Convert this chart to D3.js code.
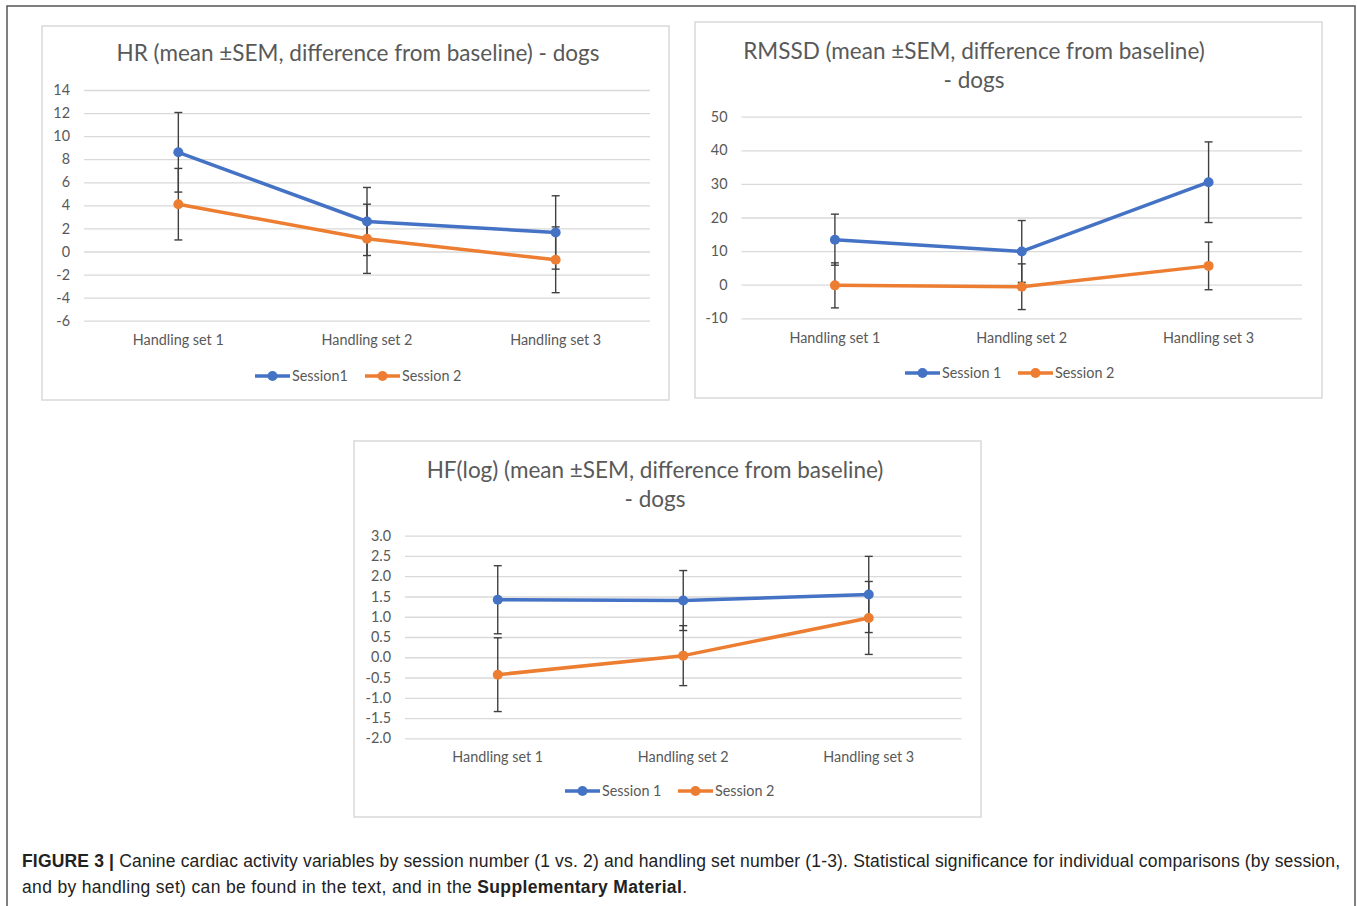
<!DOCTYPE html>
<html>
<head>
<meta charset="utf-8">
<script src="https://cdn.jsdelivr.net/npm/d3@7"></script>
<style>
  html, body { margin: 0; padding: 0; background: #fff; }
  svg { display: block; }
</style>
</head>
<body>
<svg id="fig" width="1357" height="906"></svg>
<script>
// Shared categories and legend names
const categories = ["Handling set 1", "Handling set 2", "Handling set 3"];
const seriesNamesHR = ["Session1", "Session 2"];
const seriesNames = ["Session 1", "Session 2"];

// HR (beats/min change from baseline)
const hrSession1 = [8.6, 2.6, 1.65];
const hrSession1Sem = [3.45, 2.95, 3.18];
const hrSession2 = [4.1, 1.1, -0.72];
const hrSession2Sem = [3.1, 3.0, 2.85];
const hrTicks = [-6, -4, -2, 0, 2, 4, 6, 8, 10, 12, 14];

// RMSSD change from baseline
const rmssdSession1 = [13.4, 9.9, 30.5];
const rmssdSession1Sem = [7.6, 9.2, 12.0];
const rmssdSession2 = [-0.2, -0.6, 5.6];
const rmssdSession2Sem = [6.7, 6.8, 7.1];
const rmssdTicks = [-10, 0, 10, 20, 30, 40, 50];

// HF(log) change from baseline
const hfSession1 = [1.42, 1.40, 1.55];
const hfSession1Sem = [0.84, 0.74, 0.94];
const hfSession2 = [-0.43, 0.04, 0.97];
const hfSession2Sem = [0.91, 0.74, 0.90];
const hfTicks = [-2.0, -1.5, -1.0, -0.5, 0.0, 0.5, 1.0, 1.5, 2.0, 2.5, 3.0];

const BLUE = "#4472C4", ORANGE = "#ED7D31";
const GRID = "#D9D9D9", TEXT = "#595959", ERR = "#404040";
const FONT = "Lato, 'Open Sans', sans-serif";

const svg = d3.select("#fig");

// Figure frame
svg.append("rect").attr("x", 7).attr("y", 6).attr("width", 1348).attr("height", 940)
  .attr("fill", "none").attr("stroke", "#555").attr("stroke-width", 1.5);

// Work out a title size that gives the Calibri-like width
const probe = svg.append("text").attr("font-family", FONT).attr("font-size", 20)
  .text("HR (mean ±SEM, difference from baseline) - dogs");
const titleSize = 20 * 483 / probe.node().getComputedTextLength();
probe.remove();
const probe2 = svg.append("text").attr("font-family", FONT).attr("font-size", 13).text("Handling set 1");
const labelSize = 13 * 91 / probe2.node().getComputedTextLength();
probe2.remove();

function fmt(step) {
  return v => {
    const s = step < 1 ? Math.abs(v).toFixed(1) : String(Math.abs(v));
    return (v < 0 ? "-" : "") + s;
  };
}

function drawChart(cfg) {
  const g = svg.append("g");
  // chart area border
  g.append("rect").attr("x", cfg.box[0]).attr("y", cfg.box[1])
    .attr("width", cfg.box[2] - cfg.box[0]).attr("height", cfg.box[3] - cfg.box[1])
    .attr("fill", "#fff").attr("stroke", GRID).attr("stroke-width", 1.5);

  // title
  const t = g.append("text").attr("font-family", FONT).attr("font-size", titleSize)
    .attr("fill", TEXT).attr("text-anchor", "middle");
  cfg.title.forEach((line, i) => {
    t.append("tspan").attr("x", cfg.titleX).attr("y", cfg.titleY + i * 29).text(line);
  });

  const x = d3.scaleBand().domain(categories).range([cfg.plot[0], cfg.plot[1]]);
  const y = d3.scaleLinear().domain([cfg.ticks[0], cfg.ticks[cfg.ticks.length - 1]])
    .range([cfg.plot[3], cfg.plot[2]]);

  // gridlines
  const yAxis = d3.axisLeft(y).tickValues(cfg.ticks).tickFormat(fmt(cfg.step))
    .tickSize(-(cfg.plot[1] - cfg.plot[0])).tickPadding(14);
  const ya = g.append("g").attr("transform", `translate(${cfg.plot[0]},0)`).call(yAxis);
  ya.select(".domain").remove();
  ya.selectAll(".tick line").attr("stroke", GRID).attr("stroke-width", 1.3);
  ya.selectAll(".tick text").attr("font-family", FONT).attr("font-size", labelSize)
    .attr("fill", TEXT);

  // category labels
  const xAxis = d3.axisBottom(x).tickSize(0).tickPadding(0);
  const xa = g.append("g").attr("transform", `translate(0,${cfg.catY})`).call(xAxis);
  xa.select(".domain").remove();
  xa.selectAll(".tick text").attr("font-family", FONT).attr("font-size", labelSize)
    .attr("fill", TEXT).attr("dy", 0);

  const cx = c => x(c) + x.bandwidth() / 2;
  const series = [
    { vals: cfg.s1, err: cfg.e1, color: BLUE },
    { vals: cfg.s2, err: cfg.e2, color: ORANGE }
  ];

  // error bars
  series.forEach(s => {
    const eg = g.append("g").attr("stroke", ERR).attr("stroke-width", 1.4);
    categories.forEach((c, i) => {
      const hi = y(s.vals[i] + s.err[i]), lo = y(s.vals[i] - s.err[i]);
      eg.append("line").attr("x1", cx(c)).attr("x2", cx(c)).attr("y1", hi).attr("y2", lo);
      eg.append("line").attr("x1", cx(c) - 4).attr("x2", cx(c) + 4).attr("y1", hi).attr("y2", hi);
      eg.append("line").attr("x1", cx(c) - 4).attr("x2", cx(c) + 4).attr("y1", lo).attr("y2", lo);
    });
  });

  // lines and markers
  const line = d3.line().x((d, i) => cx(categories[i])).y(d => y(d));
  series.slice().reverse().forEach(s => {
    g.append("path").datum(s.vals).attr("d", line).attr("fill", "none")
      .attr("stroke", s.color).attr("stroke-width", 3.5).attr("stroke-linejoin", "round");
    g.selectAll(null).data(s.vals).enter().append("circle")
      .attr("cx", (d, i) => cx(categories[i])).attr("cy", d => y(d)).attr("r", 5)
      .attr("fill", s.color);
  });

  // legend
  const names = cfg.names;
  [BLUE, ORANGE].forEach((col, i) => {
    const lx = cfg.legend[i];
    const ly = cfg.legendY;
    g.append("line").attr("x1", lx).attr("x2", lx + 35).attr("y1", ly).attr("y2", ly)
      .attr("stroke", col).attr("stroke-width", 3.5);
    g.append("circle").attr("cx", lx + 17.5).attr("cy", ly).attr("r", 5).attr("fill", col);
    g.append("text").attr("x", lx + 37).attr("y", ly + 4.5).attr("font-family", FONT)
      .attr("font-size", labelSize).attr("fill", TEXT).text(names[i]);
  });
}

drawChart({
  box: [42, 26, 669, 400],
  title: ["HR (mean ±SEM, difference from baseline) - dogs"],
  titleX: 358, titleY: 61,
  plot: [84, 650, 90, 320.7],
  ticks: hrTicks, step: 2,
  catY: 345,
  s1: hrSession1, e1: hrSession1Sem, s2: hrSession2, e2: hrSession2Sem,
  names: seriesNamesHR, legend: [255, 365], legendY: 376
});

drawChart({
  box: [695, 22, 1322, 398],
  title: ["RMSSD (mean ±SEM, difference from baseline)", "- dogs"],
  titleX: 974, titleY: 59,
  plot: [741.5, 1302, 116.7, 318.3],
  ticks: rmssdTicks, step: 10,
  catY: 343,
  s1: rmssdSession1, e1: rmssdSession1Sem, s2: rmssdSession2, e2: rmssdSession2Sem,
  names: seriesNames, legend: [905, 1018], legendY: 373
});

drawChart({
  box: [354, 441, 981, 817],
  title: ["HF(log) (mean ±SEM, difference from baseline)", "- dogs"],
  titleX: 655, titleY: 478,
  plot: [405, 961.5, 535.7, 738.3],
  ticks: hfTicks, step: 0.5,
  catY: 762,
  s1: hfSession1, e1: hfSession1Sem, s2: hfSession2, e2: hfSession2Sem,
  names: seriesNames, legend: [565, 678], legendY: 791
});

// Caption
const CAP = "'Liberation Sans Narrow', 'Liberation Sans', Arial, sans-serif";
const cap1 = svg.append("text").attr("x", 22).attr("y", 867).attr("font-family", CAP)
  .attr("font-size", 17.5).attr("fill", "#222");
cap1.append("tspan").attr("font-weight", "bold").text("FIGURE 3 | ");
cap1.append("tspan").text("Canine cardiac activity variables by session number (1 vs. 2) and handling set number (1-3). Statistical significance for individual comparisons (by session,");
cap1.attr("textLength", 1318).attr("lengthAdjust", "spacing");

const cap2 = svg.append("text").attr("x", 22).attr("y", 893).attr("font-family", CAP)
  .attr("font-size", 17.5).attr("fill", "#222");
cap2.append("tspan").text("and by handling set) can be found in the text, and in the ");
cap2.append("tspan").attr("font-weight", "bold").text("Supplementary Material");
cap2.append("tspan").text(".");
cap2.attr("textLength", 665).attr("lengthAdjust", "spacing");
</script>
</body>
</html>
